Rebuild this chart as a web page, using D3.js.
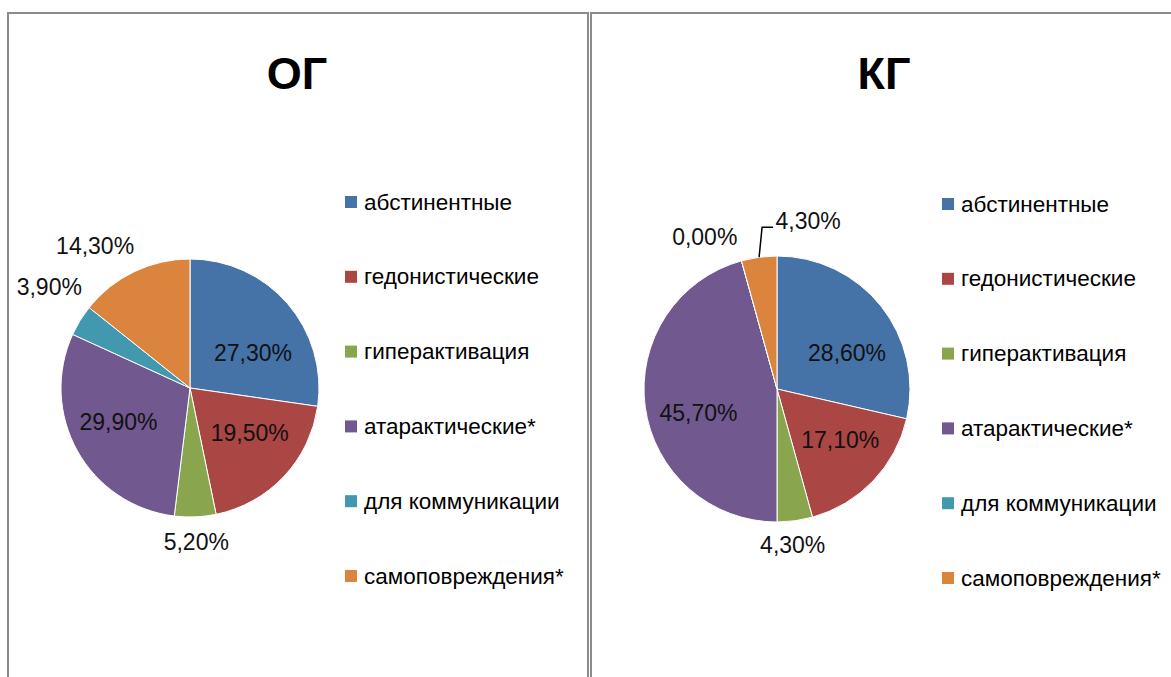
<!DOCTYPE html>
<html>
<head>
<meta charset="utf-8">
<script src="https://cdn.jsdelivr.net/npm/d3@7"></script>
<style>
  html, body { margin: 0; padding: 0; background: #fff; }
  svg { display: block; }
</style>
</head>
<body>
<svg id="chart" width="1171" height="677"></svg>
<script>
// Motive categories (legend order = slice order, clockwise from 12 o'clock)
const categories = [
  "абстинентные",
  "гедонистические",
  "гиперактивация",
  "атарактические*",
  "для коммуникации",
  "самоповреждения*"
];
const colors = ["#4572A7", "#AA4643", "#89A54E", "#71588F", "#4198AF", "#DB843D"];

// Shares, % of each group
const groupTitles = ["ОГ", "КГ"];
const valuesOG = [27.3, 19.5, 5.2, 29.9, 3.9, 14.3];
const valuesKG = [28.6, 17.1, 4.3, 45.7, 0.0, 4.3];

// Panel layout and label placement (angle tweak in degrees, distance from centre)
const panels = [
  {
    title: groupTitles[0], values: valuesOG,
    box: { x: 8, y: 13, w: 580, h: 700 },
    cx: 190, cy: 388, r: 129, titleX: 297,
    legendX: 345, legendY: 202,
    labels: [
      { da: 12, d: 72 }, { da: -6, d: 75 }, { da: 0, d: 154 },
      { da: 4, d: 79 }, { da: 4, d: 173 }, { da: -8, d: 171 }
    ]
  },
  {
    title: groupTitles[1], values: valuesKG,
    box: { x: 591, y: 13, w: 620, h: 700 },
    cx: 777, cy: 389, r: 133, titleX: 884,
    legendX: 942, legendY: 204,
    labels: [
      { da: 11, d: 79 }, { da: -5, d: 81 }, { da: 2, d: 157 },
      { da: -9, d: 82 }, { da: -10, d: 168 }, { leader: true }
    ]
  }
];

const svg = d3.select("#chart");
const fmt = v => d3.format(".2f")(v).replace(".", ",") + "%";
const LABEL_FONT = "'Liberation Sans', Arial, sans-serif";

panels.forEach(p => {
  const g = svg.append("g");

  // Panel frame
  g.append("rect")
    .attr("x", p.box.x).attr("y", p.box.y)
    .attr("width", p.box.w).attr("height", p.box.h)
    .attr("fill", "#fff").attr("stroke", "#8a8a8a").attr("stroke-width", 2);

  // Title
  g.append("text")
    .attr("x", p.titleX).attr("y", 89)
    .attr("text-anchor", "middle")
    .attr("font-family", LABEL_FONT)
    .attr("font-weight", "bold")
    .attr("font-size", 45)
    .attr("fill", "#000")
    .text(p.title);

  const pie = d3.pie().sort(null).value(d => d)(p.values);
  const arc = d3.arc().innerRadius(0).outerRadius(p.r);

  const pieG = g.append("g").attr("transform", `translate(${p.cx},${p.cy})`);
  pieG.selectAll("path.slice")
    .data(pie)
    .join("path")
    .attr("class", "slice")
    .attr("d", arc)
    .attr("fill", (d, i) => colors[i])
    .attr("stroke", "#fff")
    .attr("stroke-width", 1);

  // Value labels
  pie.forEach((d, i) => {
    const lay = p.labels[i];
    const mid = (d.startAngle + d.endAngle) / 2;
    let x, y;
    if (lay.leader) {
      // Label lifted above the slice, joined by an elbow leader
      const ex = Math.sin(mid) * p.r, ey = -Math.cos(mid) * p.r;
      const kx = ex + 3, ky = ey - 30;
      pieG.append("path")
        .attr("d", `M${ex},${ey}L${kx},${ky}L${kx + 11},${ky}`)
        .attr("fill", "none").attr("stroke", "#000").attr("stroke-width", 1.5);
      x = kx + 13 + 33; y = ky - 6;
    } else {
      const a = mid + lay.da * Math.PI / 180;
      x = Math.sin(a) * lay.d; y = -Math.cos(a) * lay.d;
    }
    pieG.append("text")
      .attr("x", x).attr("y", y)
      .attr("text-anchor", "middle")
      .attr("dominant-baseline", "central")
      .attr("font-family", LABEL_FONT)
      .attr("font-size", 23)
      .attr("fill", "#111")
      .text(fmt(p.values[i]));
  });

  // Legend
  const step = 74.8;
  const leg = g.append("g");
  categories.forEach((c, i) => {
    const yy = p.legendY + i * step;
    leg.append("rect")
      .attr("x", p.legendX).attr("y", yy - 6)
      .attr("width", 12).attr("height", 12)
      .attr("fill", colors[i]);
    leg.append("text")
      .attr("x", p.legendX + 19).attr("y", yy)
      .attr("dominant-baseline", "central")
      .attr("font-family", LABEL_FONT)
      .attr("font-size", 22.5)
      .attr("fill", "#000")
      .text(c);
  });
});
</script>
</body>
</html>
